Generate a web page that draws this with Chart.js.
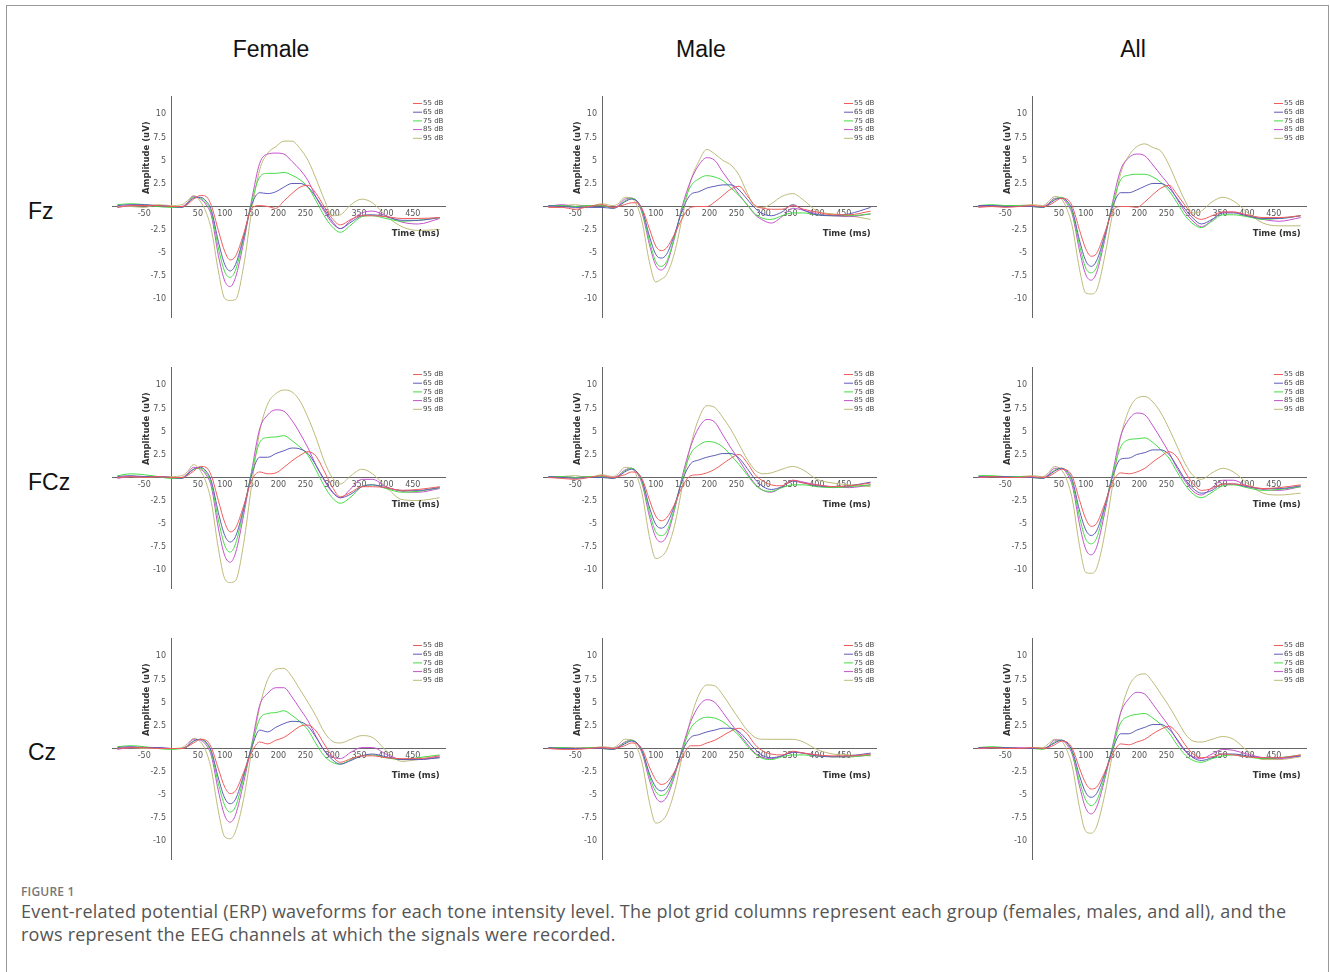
<!DOCTYPE html>
<html>
<head>
<meta charset="utf-8">
<script src="https://cdn.jsdelivr.net/npm/chart.js@4.4.1/dist/chart.umd.min.js"></script>
<style>
body { margin: 0; background: #fff; }
#page { position: relative; width: 1330px; height: 972px; overflow: hidden; }
#frame { position: absolute; left: 6px; top: 5px; width: 1323px; height: 1000px; border: 1.5px solid #999; border-bottom: none; box-sizing: border-box; }
.col { position: absolute; top: 38px; width: 200px; margin-left: -100px; text-align: center; font: 23px "Liberation Sans", Arial, sans-serif; line-height: 23px; color: #111; }
.row { position: absolute; left: 28px; font: 23px "Liberation Sans", Arial, sans-serif; line-height: 23px; color: #111; }
canvas { position: absolute; }
#figno { position: absolute; left: 21px; top: 884px; font: 600 12px "Open Sans", sans-serif; line-height: 16px; color: #777; letter-spacing: 0.2px; }
#caption { position: absolute; left: 21px; top: 900px; font: 18px "Open Sans", sans-serif; line-height: 23px; color: #555; letter-spacing: 0.25px; white-space: nowrap; }
</style>
</head>
<body>
<div id="page">
  <div id="frame"></div>
  <div class="col" style="left:271px">Female</div>
  <div class="col" style="left:701px">Male</div>
  <div class="col" style="left:1133px">All</div>
  <div class="row" style="top:200px">Fz</div>
  <div class="row" style="top:471px">FCz</div>
  <div class="row" style="top:741px">Cz</div>
  <div id="figno">FIGURE 1</div>
  <div id="caption">Event-related potential (ERP) waveforms for each tone intensity level. The plot grid columns represent each group (females, males, and all), and the<br>rows represent the EEG channels at which the signals were recorded.</div>
</div>
<script>
// time points (ms) shared by every waveform
const times = [-100, -75, -50, -25, 0, 20, 30, 42, 55, 65, 75, 88, 100, 110, 120, 135, 150, 165, 180, 195, 210, 225, 240, 255, 270, 285, 300, 315, 335, 355, 375, 400, 430, 460, 500];

const levels = ['55 dB', '65 dB', '75 dB', '85 dB', '95 dB'];
const groups = ['Female', 'Male', 'All'];
const channels = ['Fz', 'FCz', 'Cz'];
const xTicks = [-50, 50, 100, 150, 200, 250, 300, 350, 400, 450];
const yTicks = [10, 7.5, 5, 2.5, -2.5, -5, -7.5, -10];
const xTitle = 'Time (ms)';
const yTitle = 'Amplitude (uV)';

// amplitudes (uV), one row per level: 55, 65, 75, 85, 95 dB
const femaleFz = [
  [-0.1, 0.1, 0.1, 0.1, 0.0, 0.0, 0.2, 0.8, 1.2, 1.1, 0.1, -2.6, -4.9, -5.8, -5.4, -3.0, -0.2, 0.1, 0.0, -0.2, 0.6, 1.4, 2.1, 2.3, 1.4, 0.0, -1.3, -2.0, -1.4, -1.0, -1.0, -1.1, -1.3, -1.3, -1.2],
  [0.1, 0.2, 0.2, 0.1, 0.0, -0.1, 0.3, 0.9, 1.0, 0.6, -0.4, -3.8, -6.3, -7.0, -6.3, -3.3, 0.2, 1.5, 1.4, 1.6, 2.1, 2.5, 2.5, 2.1, 1.0, -0.3, -1.6, -2.4, -1.7, -1.0, -0.9, -1.1, -1.5, -1.5, -1.2],
  [0.2, 0.3, 0.2, 0.0, -0.1, -0.1, 0.3, 1.0, 0.9, 0.4, -0.7, -4.5, -7.1, -7.7, -6.9, -3.5, 0.5, 3.2, 3.6, 3.6, 3.7, 3.4, 2.9, 2.1, 0.6, -1.0, -2.2, -2.8, -2.0, -1.1, -1.0, -1.3, -1.6, -1.5, -1.2],
  [-0.1, 0.1, 0.1, 0.1, 0.0, 0.0, 0.4, 1.1, 0.8, 0.2, -1.0, -5.3, -8.1, -8.7, -7.7, -3.9, 0.7, 4.7, 5.7, 5.8, 5.7, 4.9, 4.0, 2.8, 1.0, -0.5, -1.8, -2.4, -1.5, -0.7, -0.5, -1.0, -1.7, -1.9, -1.3],
  [0.0, 0.0, -0.1, 0.2, 0.1, 0.2, 0.6, 1.2, 0.5, -0.6, -2.5, -7.0, -10.0, -10.2, -10.1, -6.5, -0.5, 4.0, 5.8, 6.5, 7.1, 7.1, 6.3, 5.0, 3.0, 0.8, -1.0, -0.9, 0.2, 0.8, 0.4, -1.0, -2.2, -2.6, -2.5]
];
const femaleFCz = [
  [0.0, 0.1, 0.0, 0.1, 0.0, 0.0, 0.2, 0.7, 1.2, 1.1, 0.2, -2.5, -4.9, -5.9, -5.5, -3.1, -0.3, 0.6, 0.4, 0.5, 1.1, 1.8, 2.4, 2.8, 2.3, 0.7, -1.0, -2.1, -1.6, -1.0, -1.0, -1.1, -1.4, -1.3, -1.0],
  [0.1, 0.2, 0.1, 0.1, 0.0, -0.1, 0.3, 0.9, 1.1, 0.7, -0.4, -3.8, -6.3, -7.0, -6.4, -3.4, 0.3, 2.2, 2.2, 2.6, 2.9, 3.2, 3.1, 2.6, 1.3, -0.2, -1.5, -2.2, -1.8, -1.0, -0.8, -1.1, -1.4, -1.4, -1.1],
  [0.2, 0.4, 0.3, 0.1, -0.1, -0.1, 0.3, 0.9, 1.0, 0.5, -0.7, -4.6, -7.4, -8.1, -7.2, -3.6, 0.6, 3.8, 4.35, 4.4, 4.55, 4.0, 3.3, 2.4, 0.8, -0.9, -2.2, -2.8, -2.1, -1.0, -0.8, -1.2, -1.6, -1.5, -1.1],
  [-0.1, 0.1, 0.1, 0.1, 0.0, 0.0, 0.4, 1.1, 0.9, 0.3, -1.0, -5.5, -8.5, -9.2, -8.2, -4.1, 0.7, 5.3, 6.8, 7.35, 7.2, 6.2, 4.8, 3.2, 1.3, -0.3, -1.6, -2.2, -1.2, -0.2, -0.2, -1.0, -1.5, -1.6, -1.2],
  [0.0, 0.1, 0.0, 0.1, 0.1, 0.2, 0.6, 1.4, 0.7, -0.5, -2.7, -7.7, -11.0, -11.4, -11.2, -7.2, -0.8, 5.0, 8.0, 9.1, 9.5, 9.3, 8.3, 6.5, 4.3, 1.8, 0.0, -0.7, 0.2, 0.9, 0.4, -1.0, -2.4, -2.5, -2.2]
];
const femaleCz = [
  [0.0, 0.1, 0.1, 0.0, 0.0, 0.0, 0.2, 0.6, 1.0, 0.9, 0.1, -2.2, -4.2, -4.9, -4.6, -2.6, -0.4, 0.7, 0.5, 0.9, 1.2, 1.8, 2.4, 2.55, 1.9, 0.5, -0.8, -1.5, -1.1, -0.8, -0.8, -1.0, -1.1, -1.1, -0.8],
  [0.1, 0.2, 0.1, 0.1, 0.0, 0.0, 0.2, 0.8, 1.0, 0.7, -0.3, -3.2, -5.4, -6.0, -5.5, -2.9, 0.1, 2.0, 1.8, 2.3, 2.7, 2.95, 2.9, 2.4, 1.2, -0.2, -1.2, -1.7, -1.3, -0.8, -0.6, -0.9, -1.2, -1.2, -1.0],
  [0.2, 0.3, 0.2, 0.0, -0.1, 0.0, 0.2, 0.8, 1.0, 0.6, -0.5, -3.8, -6.2, -6.9, -6.3, -3.2, 0.3, 3.2, 3.8, 3.9, 4.1, 3.6, 2.9, 2.0, 0.5, -0.8, -1.5, -1.7, -1.2, -0.8, -0.7, -1.0, -1.2, -1.0, -0.7],
  [-0.1, 0.1, 0.1, 0.1, 0.0, 0.0, 0.3, 1.0, 0.9, 0.4, -0.8, -4.6, -7.3, -8.0, -7.2, -3.7, 0.4, 4.7, 6.0, 6.6, 6.6, 5.6, 4.3, 3.0, 1.3, -0.2, -0.9, -1.1, -0.4, 0.1, 0.1, -0.6, -1.2, -1.2, -0.9],
  [0.0, 0.1, 0.0, 0.0, 0.0, 0.1, 0.5, 1.1, 0.7, -0.3, -2.3, -6.8, -9.6, -9.8, -9.0, -5.5, -0.3, 4.5, 7.5, 8.6, 8.7, 7.8, 6.4, 5.0, 3.5, 1.8, 0.8, 0.6, 1.0, 1.4, 1.2, -0.2, -1.4, -1.2, -1.0]
];
const maleFz = [
  [-0.1, -0.1, -0.3, 0.0, 0.2, -0.1, 0.0, 0.2, 0.4, 0.4, -0.3, -2.4, -4.3, -4.8, -4.5, -3.0, -1.2, -0.1, 0.0, 0.0, 0.5, 1.2, 1.9, 2.2, 1.2, 0.1, -0.2, -0.3, -0.3, 0.1, -0.3, -0.6, -0.9, -0.9, -0.5],
  [0.1, 0.0, -0.1, -0.1, -0.1, -0.2, 0.0, 0.5, 0.8, 0.6, -0.4, -3.2, -5.2, -5.6, -5.2, -3.0, -0.3, 1.3, 1.6, 2.0, 2.2, 2.35, 2.35, 1.8, 0.8, -0.2, -0.8, -1.0, -0.6, 0.2, -0.4, -0.9, -1.0, -0.8, -0.1],
  [0.1, 0.1, 0.0, 0.1, 0.1, -0.2, 0.0, 0.6, 0.9, 0.6, -0.6, -3.7, -6.0, -6.5, -6.0, -3.3, 0.0, 2.2, 3.0, 3.35, 3.2, 2.8, 2.0, 1.2, 0.2, -0.8, -1.3, -1.4, -1.0, -0.7, -0.7, -0.9, -1.0, -1.0, -0.8],
  [0.0, 0.2, 0.0, 0.1, 0.1, -0.1, 0.1, 0.8, 0.9, 0.5, -0.8, -4.1, -6.4, -6.9, -6.3, -3.4, 0.2, 2.8, 4.5, 5.3, 5.0, 3.7, 2.5, 1.3, 0.2, -0.9, -1.5, -1.8, -1.1, -0.2, -0.4, -0.8, -1.0, -1.1, -0.8],
  [0.0, 0.1, 0.2, 0.0, 0.3, 0.1, 0.3, 1.0, 0.9, 0.1, -1.8, -6.0, -8.2, -7.9, -7.4, -5.0, -1.0, 2.8, 4.9, 6.2, 5.7, 5.0, 4.5, 3.4, 1.5, 0.0, -0.1, 0.3, 1.1, 1.4, 0.7, -0.5, -0.8, -1.0, -1.4]
];
const maleFCz = [
  [0.0, -0.1, -0.2, 0.0, 0.2, 0.0, 0.1, 0.3, 0.6, 0.5, -0.2, -2.4, -4.2, -4.7, -4.4, -2.9, -0.9, 0.2, 0.3, 0.5, 0.9, 1.5, 2.1, 2.5, 1.6, 0.3, -0.4, -0.8, -0.9, -0.3, -0.6, -0.8, -1.0, -0.9, -0.6],
  [0.1, 0.0, -0.1, 0.0, 0.0, -0.1, 0.1, 0.6, 0.9, 0.6, -0.4, -3.2, -5.1, -5.5, -5.1, -3.0, -0.2, 1.5, 1.9, 2.2, 2.4, 2.6, 2.6, 2.1, 1.0, -0.2, -1.0, -1.3, -1.0, -0.4, -0.6, -0.9, -1.0, -0.9, -0.5],
  [0.1, 0.1, 0.0, 0.1, 0.1, -0.1, 0.1, 0.7, 1.0, 0.6, -0.6, -3.7, -5.9, -6.3, -5.9, -3.3, 0.1, 2.6, 3.5, 3.9, 3.8, 3.3, 2.4, 1.4, 0.3, -0.8, -1.4, -1.5, -1.1, -0.8, -0.8, -1.0, -1.1, -1.0, -0.8],
  [0.0, 0.1, 0.0, 0.1, 0.1, 0.0, 0.2, 0.8, 1.0, 0.5, -0.8, -4.2, -6.5, -7.0, -6.4, -3.5, 0.3, 3.4, 5.4, 6.3, 6.0, 4.6, 3.2, 1.9, 0.5, -0.7, -1.4, -1.6, -1.0, -0.3, -0.5, -0.8, -1.0, -1.1, -0.8],
  [0.0, 0.1, 0.2, 0.0, 0.3, 0.1, 0.4, 1.1, 1.0, 0.1, -1.9, -6.4, -8.8, -8.6, -7.9, -5.2, -0.8, 3.5, 6.4, 7.8, 7.6, 6.5, 5.2, 3.6, 2.0, 0.8, 0.4, 0.5, 0.9, 1.2, 0.8, -0.2, -0.6, -0.8, -1.0]
];
const maleCz = [
  [0.0, -0.1, -0.1, 0.0, 0.1, 0.0, 0.1, 0.3, 0.6, 0.5, -0.1, -2.0, -3.4, -3.9, -3.7, -2.5, -0.8, 0.3, 0.3, 0.6, 0.9, 1.4, 1.9, 2.2, 1.6, 0.4, -0.3, -0.6, -0.7, -0.3, -0.5, -0.7, -0.8, -0.8, -0.6],
  [0.1, 0.0, 0.0, 0.0, 0.0, -0.1, 0.1, 0.5, 0.8, 0.6, -0.3, -2.7, -4.2, -4.6, -4.3, -2.6, -0.2, 1.2, 1.5, 1.8, 2.0, 2.2, 2.2, 1.8, 0.9, -0.1, -0.8, -1.0, -0.8, -0.4, -0.5, -0.8, -0.9, -0.8, -0.5],
  [0.1, 0.1, 0.0, 0.1, 0.0, -0.1, 0.1, 0.6, 0.9, 0.6, -0.4, -3.0, -4.7, -5.1, -4.8, -2.8, 0.0, 2.2, 3.1, 3.4, 3.3, 2.9, 2.2, 1.4, 0.3, -0.6, -1.1, -1.2, -0.9, -0.7, -0.7, -0.8, -0.9, -0.9, -0.7],
  [0.0, 0.1, 0.0, 0.1, 0.1, 0.0, 0.2, 0.7, 0.9, 0.5, -0.6, -3.4, -5.3, -5.8, -5.3, -3.0, 0.2, 2.9, 4.6, 5.3, 5.0, 3.9, 2.7, 1.6, 0.5, -0.5, -1.0, -1.1, -0.8, -0.4, -0.5, -0.7, -0.9, -0.9, -0.7],
  [0.0, 0.1, 0.1, 0.0, 0.2, 0.1, 0.4, 1.0, 0.9, 0.1, -1.7, -5.8, -8.1, -7.9, -7.2, -4.6, -0.6, 3.2, 5.8, 6.9, 6.8, 5.8, 4.5, 3.2, 2.0, 1.2, 1.0, 1.0, 1.0, 1.0, 0.7, -0.1, -0.6, -0.7, -0.8]
];
const allFz = [
  [-0.1, 0.0, -0.1, 0.0, 0.1, 0.0, 0.1, 0.5, 0.9, 0.8, 0.0, -2.5, -4.6, -5.4, -5.1, -2.9, -0.5, 0.0, 0.0, -0.1, 0.5, 1.3, 2.0, 2.3, 1.3, 0.1, -1.0, -1.4, -1.0, -0.6, -0.6, -0.9, -1.2, -1.2, -1.0],
  [0.1, 0.1, 0.0, 0.0, 0.0, -0.1, 0.2, 0.7, 0.9, 0.6, -0.4, -3.6, -5.9, -6.5, -5.9, -3.2, 0.0, 1.5, 1.5, 1.8, 2.2, 2.5, 2.5, 2.0, 0.9, -0.3, -1.3, -1.9, -1.4, -0.7, -0.7, -1.0, -1.3, -1.3, -1.0],
  [0.1, 0.2, 0.1, 0.1, 0.0, -0.1, 0.2, 0.8, 1.0, 0.5, -0.7, -4.1, -6.7, -7.2, -6.6, -3.4, 0.3, 2.9, 3.4, 3.5, 3.5, 3.2, 2.6, 1.7, 0.4, -1.0, -1.9, -2.3, -1.6, -0.9, -0.9, -1.1, -1.4, -1.3, -1.0],
  [0.0, 0.1, 0.1, 0.1, 0.0, 0.0, 0.3, 0.9, 0.9, 0.3, -0.9, -4.7, -7.4, -8.0, -7.2, -3.7, 0.5, 4.0, 5.3, 5.7, 5.5, 4.5, 3.4, 2.3, 0.8, -0.6, -1.6, -2.2, -1.5, -0.6, -0.6, -1.0, -1.4, -1.6, -1.2],
  [0.0, 0.1, 0.0, 0.1, 0.2, 0.1, 0.5, 1.1, 0.8, -0.3, -2.2, -6.7, -9.4, -9.5, -9.1, -5.5, -0.7, 3.6, 5.5, 6.5, 6.8, 6.4, 6.0, 4.5, 2.5, 0.6, -0.7, -0.5, 0.5, 1.0, 0.6, -0.6, -1.8, -2.1, -2.1]
];
const allFCz = [
  [0.0, 0.1, 0.0, 0.0, 0.1, 0.0, 0.1, 0.5, 0.9, 0.8, 0.1, -2.4, -4.5, -5.3, -5.0, -2.9, -0.5, 0.5, 0.4, 0.6, 1.0, 1.7, 2.3, 2.8, 2.2, 0.6, -0.7, -1.4, -1.2, -0.7, -0.7, -0.9, -1.2, -1.1, -0.8],
  [0.1, 0.1, 0.1, 0.0, 0.0, -0.1, 0.2, 0.7, 1.0, 0.7, -0.3, -3.5, -5.7, -6.3, -5.8, -3.2, 0.1, 2.0, 2.1, 2.5, 2.7, 3.0, 3.0, 2.5, 1.2, -0.2, -1.2, -1.7, -1.4, -0.7, -0.7, -1.0, -1.2, -1.2, -0.9],
  [0.2, 0.2, 0.1, 0.1, 0.0, -0.1, 0.2, 0.8, 1.0, 0.6, -0.6, -4.2, -6.7, -7.2, -6.6, -3.4, 0.4, 3.3, 4.1, 4.2, 4.3, 3.8, 3.0, 2.1, 0.6, -0.8, -1.8, -2.2, -1.6, -0.9, -0.8, -1.1, -1.4, -1.3, -1.0],
  [0.0, 0.1, 0.1, 0.1, 0.0, 0.0, 0.3, 1.0, 1.0, 0.4, -0.9, -5.0, -7.8, -8.4, -7.6, -3.9, 0.5, 4.5, 6.3, 7.0, 6.8, 5.6, 4.2, 2.7, 1.0, -0.4, -1.5, -1.9, -1.1, -0.3, -0.3, -0.9, -1.3, -1.4, -1.0],
  [0.0, 0.1, 0.1, 0.1, 0.2, 0.1, 0.5, 1.2, 0.8, -0.3, -2.4, -7.3, -10.3, -10.4, -9.9, -6.2, -0.8, 4.4, 7.3, 8.6, 8.8, 8.2, 7.0, 5.3, 3.4, 1.5, 0.2, -0.2, 0.5, 1.0, 0.6, -0.6, -1.7, -1.9, -1.7]
];
const allCz = [
  [0.0, 0.1, 0.0, 0.0, 0.1, 0.0, 0.1, 0.4, 0.8, 0.7, 0.0, -2.1, -3.8, -4.4, -4.2, -2.6, -0.6, 0.5, 0.4, 0.7, 1.0, 1.6, 2.1, 2.4, 1.7, 0.4, -0.6, -1.0, -0.9, -0.6, -0.7, -0.9, -1.0, -1.0, -0.7],
  [0.1, 0.1, 0.1, 0.0, 0.0, 0.0, 0.2, 0.6, 0.9, 0.6, -0.3, -2.9, -4.8, -5.3, -4.9, -2.8, -0.1, 1.6, 1.6, 2.0, 2.3, 2.6, 2.6, 2.1, 1.0, -0.2, -1.0, -1.3, -1.0, -0.6, -0.6, -0.8, -1.0, -1.0, -0.8],
  [0.1, 0.2, 0.1, 0.0, 0.0, -0.1, 0.2, 0.7, 0.9, 0.6, -0.5, -3.5, -5.6, -6.2, -5.7, -3.1, 0.2, 2.8, 3.5, 3.7, 3.8, 3.3, 2.6, 1.7, 0.4, -0.7, -1.3, -1.5, -1.1, -0.8, -0.7, -0.9, -1.1, -1.0, -0.7],
  [0.0, 0.1, 0.1, 0.1, 0.0, 0.0, 0.2, 0.9, 0.9, 0.4, -0.7, -4.0, -6.5, -7.1, -6.4, -3.4, 0.3, 3.9, 5.4, 6.1, 5.9, 4.8, 3.6, 2.4, 0.9, -0.3, -0.9, -1.1, -0.6, -0.1, -0.2, -0.6, -1.0, -1.1, -0.8],
  [0.0, 0.1, 0.0, 0.0, 0.1, 0.1, 0.5, 1.0, 0.8, -0.2, -2.0, -6.3, -9.0, -9.2, -8.5, -5.1, -0.5, 3.9, 6.7, 7.9, 8.1, 7.2, 5.9, 4.6, 3.1, 1.6, 0.8, 0.7, 1.0, 1.3, 1.0, -0.2, -1.2, -1.2, -0.9]
];

// rows = channels, columns = groups
const panels = [
  [femaleFz, maleFz, allFz],
  [femaleFCz, maleFCz, allFCz],
  [femaleCz, maleCz, allCz]
];

const lineColors = ['#f05c5c', '#5c5cb8', '#44dc44', '#c452cc', '#bdbb78'];

// small legend in the top right corner of the plot area
const cornerLegend = {
  id: 'cornerLegend',
  afterDraw(chart) {
    const { ctx, chartArea } = chart;
    ctx.save();
    ctx.font = '7px "DejaVu Sans"';
    ctx.textBaseline = 'middle';
    ctx.textAlign = 'left';
    chart.data.datasets.forEach((ds, i) => {
      const y = chartArea.top + 7.5 + i * 8.7;
      ctx.strokeStyle = ds.borderColor;
      ctx.lineWidth = 1;
      ctx.beginPath();
      ctx.moveTo(chartArea.right - 32, y);
      ctx.lineTo(chartArea.right - 23, y);
      ctx.stroke();
      ctx.fillStyle = '#444';
      ctx.fillText(ds.label, chartArea.right - 22, y);
    });
    ctx.restore();
  }
};

// axis names sit next to the crossing axes, not at the chart edge
const axisNames = {
  id: 'axisNames',
  afterDraw(chart) {
    const { ctx, scales } = chart;
    const x = scales.x, y = scales.y;
    ctx.save();
    ctx.fillStyle = '#333';
    ctx.font = 'bold 8.5px "DejaVu Sans"';
    ctx.textBaseline = 'middle';
    ctx.textAlign = 'right';
    ctx.fillText(xTitle, x.getPixelForValue(500), y.getPixelForValue(-3));
    ctx.translate(x.getPixelForValue(0) - 24, y.getPixelForValue(5.3));
    ctx.rotate(-Math.PI / 2);
    ctx.textAlign = 'center';
    ctx.fillText(yTitle, 0, 0);
    ctx.restore();
  }
};

const page = document.getElementById('page');
const pad = 12;

channels.forEach((ch, r) => {
  groups.forEach((g, c) => {
    const cv = document.createElement('canvas');
    cv.width = 333 + 2 * pad;
    cv.height = 221 + 2 * pad;
    cv.style.left = Math.round(112 - pad + 430.5 * c) + 'px';
    cv.style.top = (96 - pad + 271 * r) + 'px';
    page.appendChild(cv);

    const series = panels[r][c];
    new Chart(cv, {
      type: 'line',
      data: {
        datasets: levels.map((lv, i) => ({
          label: lv,
          data: times.map((t, k) => ({ x: t, y: series[i][k] })),
          borderColor: lineColors[i],
          borderWidth: 1,
          pointRadius: 0,
          cubicInterpolationMode: 'monotone'
        }))
      },
      options: {
        responsive: false,
        animation: false,
        layout: { padding: pad },
        plugins: { legend: { display: false }, tooltip: { enabled: false } },
        scales: {
          x: {
            type: 'linear',
            min: -110,
            max: 510,
            position: { y: 0 },
            grid: { display: false, drawTicks: false },
            border: { display: true, color: '#666', width: 1 },
            afterBuildTicks: s => { s.ticks = xTicks.map(v => ({ value: v })); },
            ticks: {
              autoSkip: false,
              maxRotation: 0,
              padding: 3,
              color: '#555',
              font: { family: 'DejaVu Sans', size: 8 },
              callback: v => String(v)
            }
          },
          y: {
            type: 'linear',
            min: -12,
            max: 12,
            position: { x: 0 },
            grid: { display: false, drawTicks: false },
            border: { display: true, color: '#666', width: 1 },
            afterBuildTicks: s => { s.ticks = yTicks.map(v => ({ value: v })); },
            ticks: {
              autoSkip: false,
              color: '#555',
              font: { family: 'DejaVu Sans', size: 8 },
              // the library puts these labels flush with the axis; two spaces give the gap
              callback: v => String(v) + '  '
            }
          }
        }
      },
      plugins: [cornerLegend, axisNames]
    });
  });
});
</script>
</body>
</html>
